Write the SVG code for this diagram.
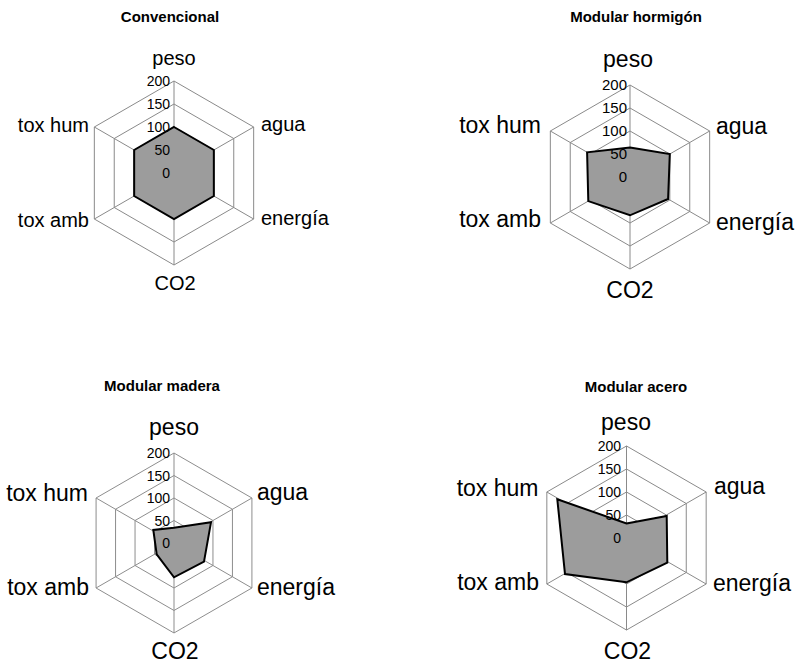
<svg xmlns="http://www.w3.org/2000/svg" xmlns:xlink="http://www.w3.org/1999/xlink" width="808" height="664" viewBox="0 0 808 664">
<style>
.grid{fill:none;stroke:#8a8a8a;stroke-width:1}
.data{fill:#9c9c9c;stroke:#000;stroke-width:2;stroke-linejoin:miter}
text{font-family:"Liberation Sans",Arial,sans-serif;fill:#000}
.title{font-weight:bold;font-size:15px;text-anchor:middle}
.tick{font-size:14px;text-anchor:end}
.tick2{font-size:15px;text-anchor:end}
.ax1{font-size:20px}
.ax2{font-size:23px}
.mid{text-anchor:middle}
.end{text-anchor:end}
</style>
<defs>
<g id="grid">
<polygon class="grid" points="0,-92 79.67,-46 79.67,46 0,92 -79.67,46 -79.67,-46"/>
<polygon class="grid" points="0,-69 59.76,-34.5 59.76,34.5 0,69 -59.76,34.5 -59.76,-34.5"/>
<polygon class="grid" points="0,-46 39.84,-23 39.84,23 0,46 -39.84,23 -39.84,-23"/>
<polygon class="grid" points="0,-23 19.92,-11.5 19.92,11.5 0,23 -19.92,11.5 -19.92,-11.5"/>
<line class="grid" x1="0" y1="-92" x2="0" y2="92"/>
<line class="grid" x1="-79.67" y1="-46" x2="79.67" y2="46"/>
<line class="grid" x1="-79.67" y1="46" x2="79.67" y2="-46"/>
</g>
</defs>

<g id="chart-convencional">
<text class="title" x="170" y="22">Convencional</text>
<use xlink:href="#grid" href="#grid" transform="translate(174,173)"/>
<polygon class="data" points="174,127 213.84,150 213.84,196 174,219 134.16,196 134.16,150"/>
<text class="tick" x="170" y="86">200</text>
<text class="tick" x="170" y="109">150</text>
<text class="tick" x="170" y="132">100</text>
<text class="tick" x="170" y="155">50</text>
<text class="tick" x="170" y="178">0</text>
<text class="ax1 mid" x="174" y="65">peso</text>
<text class="ax1" x="261" y="131">agua</text>
<text class="ax1" x="261" y="225">energía</text>
<text class="ax1 mid" x="175" y="290">CO2</text>
<text class="ax1 end" x="89" y="131.5">tox hum</text>
<text class="ax1 end" x="89" y="226.5">tox amb</text>
</g>

<g id="chart-hormigon">
<text class="title" x="636" y="22">Modular hormigón</text>
<use xlink:href="#grid" href="#grid" transform="translate(630,177)"/>
<polygon class="data" points="630,147.5 669.8,154 668.1,199 630,215.3 588.3,201.1 587.1,152.3"/>
<text class="tick2" x="627" y="90">200</text>
<text class="tick2" x="627" y="113">150</text>
<text class="tick2" x="627" y="136">100</text>
<text class="tick2" x="627" y="159">50</text>
<text class="tick2" x="627" y="182">0</text>
<text class="ax2 mid" x="628" y="67">peso</text>
<text class="ax2" x="716" y="134">agua</text>
<text class="ax2" x="716" y="230">energía</text>
<text class="ax2 mid" x="630" y="298">CO2</text>
<text class="ax2 end" x="541" y="133">tox hum</text>
<text class="ax2 end" x="541" y="227">tox amb</text>
</g>

<g id="chart-madera">
<text class="title" x="162" y="391">Modular madera</text>
<use xlink:href="#grid" href="#grid" transform="translate(174,543) scale(0.978)"/>
<polygon class="data" points="174,527.7 211,522.3 204,561.7 174,577.3 156.7,554.3 153.3,530"/>
<text class="tick" x="170" y="458">200</text>
<text class="tick" x="170" y="480.5">150</text>
<text class="tick" x="170" y="503">100</text>
<text class="tick" x="170" y="525.5">50</text>
<text class="tick" x="170" y="548">0</text>
<text class="ax2 mid" x="174" y="435">peso</text>
<text class="ax2" x="257" y="500">agua</text>
<text class="ax2" x="257" y="595">energía</text>
<text class="ax2 mid" x="175" y="659">CO2</text>
<text class="ax2 end" x="88" y="500.5">tox hum</text>
<text class="ax2 end" x="89" y="595">tox amb</text>
</g>

<g id="chart-acero">
<text class="title" x="636" y="392">Modular acero</text>
<use xlink:href="#grid" href="#grid" transform="translate(626.5,538)"/>
<polygon class="data" points="626.5,523.5 666.7,516 667.3,562.7 626.5,582.3 565,574 557.3,499.3"/>
<text class="tick" x="621" y="450.5">200</text>
<text class="tick" x="621" y="473.5">150</text>
<text class="tick" x="621" y="496.5">100</text>
<text class="tick" x="621" y="519.5">50</text>
<text class="tick" x="621" y="542.5">0</text>
<text class="ax2 mid" x="626" y="430">peso</text>
<text class="ax2" x="714" y="494">agua</text>
<text class="ax2" x="713" y="590.5">energía</text>
<text class="ax2 mid" x="627.5" y="659">CO2</text>
<text class="ax2 end" x="538.5" y="495.5">tox hum</text>
<text class="ax2 end" x="539" y="590">tox amb</text>
</g>
</svg>
